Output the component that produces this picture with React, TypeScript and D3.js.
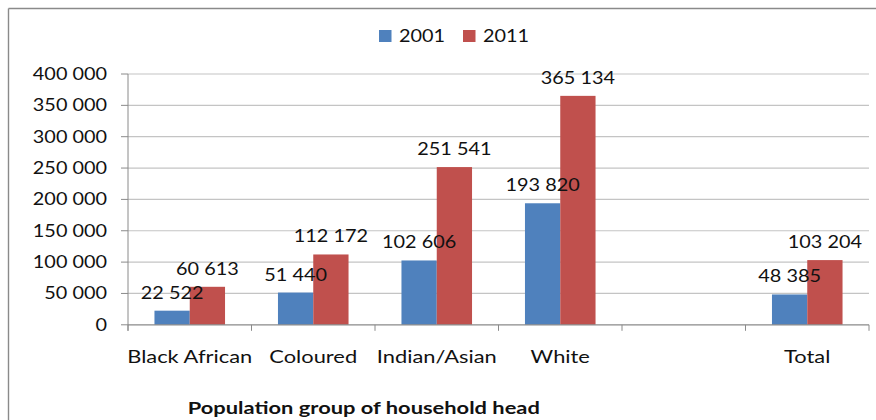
import React from "react";
import * as d3 from "d3";

// Households by population group of head, census years
const categories = ["Black African", "Coloured", "Indian/Asian", "White", "", "Total"];
const series2001 = [22522, 51440, 102606, 193820, null, 48385];
const series2011 = [60613, 112172, 251541, 365134, null, 103204];
const seriesNames = ["2001", "2011"];
const seriesColors = ["#4F81BD", "#C0504D"];
const yTicks = [0, 50000, 100000, 150000, 200000, 250000, 300000, 350000, 400000];
const xTitle = "Population group of household head";

const W = 876;
const H = 420;
const FONT = "Lato, 'Open Sans', sans-serif";
const FS = 17.5;
const SX = 1.135; // horizontal stretch for numbers
const SX_WORDS = 1.25; // horizontal stretch for word labels

// thousands grouped with a plain space: 400 000
const fmt = (v: number) => d3.format(",")(v).replace(/,/g, " ");

function T(props: {
  x: number;
  y: number;
  anchor?: "start" | "middle" | "end";
  bold?: boolean;
  size?: number;
  sx?: number;
  children: React.ReactNode;
}) {
  const { x, y, anchor = "middle", bold, size = FS, sx = SX, children } = props;
  return (
    <text
      transform={`translate(${x},${y}) scale(${sx},1)`}
      textAnchor={anchor}
      fontFamily={FONT}
      fontSize={size}
      fontWeight={bold ? 700 : 400}
      fill="#111"
    >
      {children}
    </text>
  );
}

export default function App() {
  const plotLeft = 128;
  const plotRight = 869;
  const y = d3.scaleLinear().domain([0, 400000]).range([324.8, 74]);
  const x = d3
    .scaleBand<string>()
    .domain(categories.map((_, i) => String(i)))
    .range([plotLeft, plotRight])
    .paddingInner(0)
    .paddingOuter(0);
  const bw = x.bandwidth();
  const groupW = (bw * 2) / 3.5;
  const inner = d3.scaleBand<string>().domain(seriesNames).range([0, groupW]);
  const allSeries = [series2001, series2011];
  const y0 = y(0);

  const boundaries = categories.map((_, i) => x(String(i)) as number).concat([plotRight]);

  return (
    <svg
      width={W}
      height={H}
      style={{ position: "absolute", left: 0, top: 0, display: "block", background: "#fff" }}
    >
      {/* chart frame */}
      <line x1={8.5} y1={8.5} x2={W} y2={8.5} stroke="#8a8a8a" strokeWidth={1.4} />
      <line x1={8.5} y1={8.5} x2={8.5} y2={H} stroke="#8a8a8a" strokeWidth={1.4} />

      {/* gridlines and y axis labels */}
      {yTicks.map((t) => (
        <g key={t}>
          {t > 0 && (
            <line x1={plotLeft} x2={plotRight} y1={y(t)} y2={y(t)} stroke="#c4c4c4" strokeWidth={1.2} />
          )}
          <line x1={plotLeft - 7} x2={plotLeft} y1={y(t)} y2={y(t)} stroke="#8a8a8a" strokeWidth={1} />
          <T x={107} y={y(t) + 6} anchor="end">
            {fmt(t)}
          </T>
        </g>
      ))}

      {/* bars */}
      {categories.map((c, i) => {
        const bx = (x(String(i)) as number) + (bw - groupW) / 2;
        return (
          <g key={i}>
            {allSeries.map((s, k) => {
              const v = s[i];
              if (v == null) return null;
              const sx0 = bx + (inner(seriesNames[k]) as number);
              return (
                <rect
                  key={k}
                  x={sx0}
                  y={y(v)}
                  width={inner.bandwidth()}
                  height={y0 - y(v)}
                  fill={seriesColors[k]}
                />
              );
            })}
          </g>
        );
      })}

      {/* axes */}
      <line x1={plotLeft} x2={plotLeft} y1={y(400000)} y2={y0 + 6} stroke="#8a8a8a" strokeWidth={1} />
      <line x1={plotLeft} x2={plotRight} y1={y0} y2={y0} stroke="#8a8a8a" strokeWidth={1.2} />
      {boundaries.map((b, i) => (
        <line key={i} x1={b} x2={b} y1={y0} y2={y0 + 6} stroke="#8a8a8a" strokeWidth={1} />
      ))}

      {/* value labels */}
      {categories.map((c, i) => {
        const bx = (x(String(i)) as number) + (bw - groupW) / 2;
        return allSeries.map((s, k) => {
          const v = s[i];
          if (v == null) return null;
          const cx = bx + (inner(seriesNames[k]) as number) + inner.bandwidth() / 2;
          return (
            <T key={`${i}-${k}`} x={cx} y={y(v) - 12}>
              {fmt(v)}
            </T>
          );
        });
      })}

      {/* category labels */}
      {categories.map((c, i) => (
        <T key={i} x={(x(String(i)) as number) + bw / 2} y={363.3} sx={SX_WORDS}>
          {c}
        </T>
      ))}

      {/* x axis title */}
      <T x={363.8} y={414.3} bold sx={SX_WORDS}>
        {xTitle}
      </T>

      {/* legend */}
      {seriesNames.map((n, k) => {
        const lx = [379, 463][k];
        return (
          <g key={n}>
            <rect x={lx} y={30} width={12.5} height={12} fill={seriesColors[k]} />
            <T x={lx + 20} y={41.7} anchor="start">
              {n}
            </T>
          </g>
        );
      })}
    </svg>
  );
}
